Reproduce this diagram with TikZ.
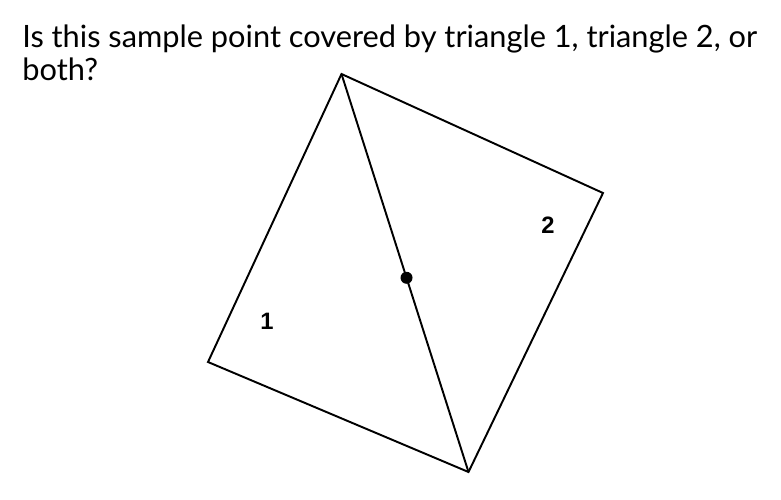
\documentclass[tikz,border=0pt]{standalone}
\usepackage{fontspec}
\setmainfont{Lato}
\newfontfamily\labelfont{Liberation Sans}
\usetikzlibrary{calc}
\begin{document}
\begin{tikzpicture}
\useasboundingbox (0.000,0.000) rectangle (15.620,-9.980);
\node[anchor=base west,inner sep=0pt,font=\fontsize{17.5}{18.7}\selectfont,align=left] (question) at (0.440,-1.600)
  {Is this sample point covered by triangle 1, triangle 2, or\\both?};
\coordinate (top) at (6.830,-1.480);
\coordinate (right) at (12.060,-3.860);
\coordinate (bottom) at (9.370,-9.440);
\coordinate (left) at (4.160,-7.240);
\draw[line width=1.1pt,line join=miter] (top) -- (right) -- (bottom) -- (left) -- cycle;
\draw[line width=1.1pt] (top) -- (bottom);
\fill ($(top)!0.512!(bottom)$) circle (0.12);
\node[font=\labelfont\bfseries\fontsize{13.5}{16}\selectfont] (one) at (5.340,-6.420) {1};
\node[font=\labelfont\bfseries\fontsize{13.5}{16}\selectfont] (two) at (10.960,-4.500) {2};
\end{tikzpicture}
\end{document}
